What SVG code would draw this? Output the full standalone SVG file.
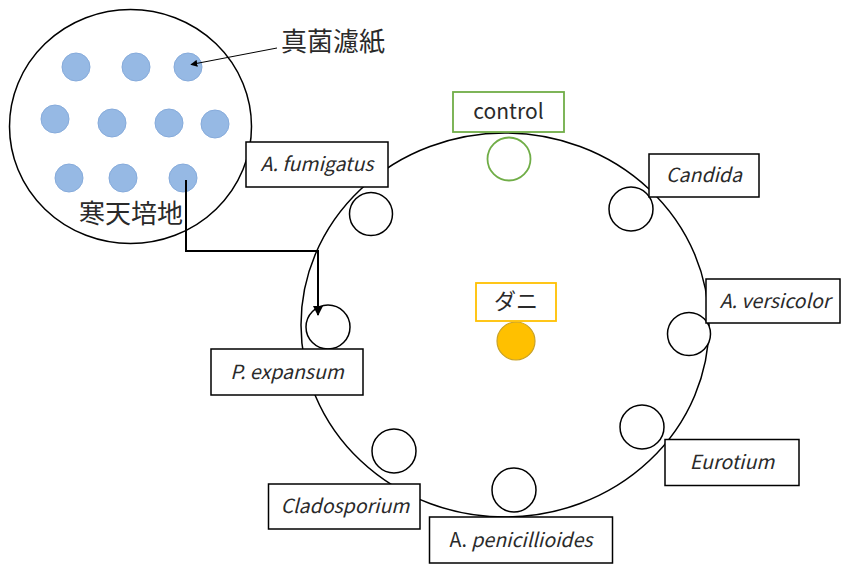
<svg xmlns="http://www.w3.org/2000/svg" width="842" height="564" viewBox="0 0 842 564">
<defs>
<style>
.ln{fill:none;stroke:#000;stroke-width:1.5}
.box{fill:#fff;stroke:#000;stroke-width:1.5}
.well{fill:#fff;stroke:#000;stroke-width:1.5}
.dot{fill:#96B9E4;stroke:#86ABDB;stroke-width:1}
.lbl{font-family:"Noto Sans CJK JP","Noto Sans",sans-serif;font-size:19.5px;fill:#2a2a2a;text-anchor:middle}
.it{font-style:italic}
.jp{font-family:"Noto Sans CJK JP",sans-serif;font-size:26px;fill:#2a2a2a}
</style>
<marker id="ah" viewBox="0 0 10 10" refX="9" refY="5" markerWidth="7" markerHeight="7" orient="auto" markerUnits="userSpaceOnUse">
<path d="M0,0 L10,5 L0,10 z" fill="#000"/>
</marker>
<marker id="ah2" viewBox="0 0 10 10" refX="9" refY="5" markerWidth="10" markerHeight="10" orient="auto" markerUnits="userSpaceOnUse">
<path d="M0,0 L10,5 L0,10 z" fill="#000"/>
</marker>
</defs>
<rect width="842" height="564" fill="#fff"/>

<g id="agar-plate">
<ellipse cx="130.5" cy="126.5" rx="121" ry="117" class="ln"/>
<circle class="dot" cx="76" cy="67" r="14"/>
<circle class="dot" cx="136" cy="67" r="14"/>
<circle class="dot" cx="188" cy="67" r="14"/>
<circle class="dot" cx="55" cy="119" r="14"/>
<circle class="dot" cx="112" cy="123" r="14"/>
<circle class="dot" cx="169" cy="123" r="14"/>
<circle class="dot" cx="215" cy="124" r="14"/>
<circle class="dot" cx="69" cy="178" r="14"/>
<circle class="dot" cx="123" cy="178" r="14"/>
<circle class="dot" cx="183" cy="178" r="14"/>
<text class="jp" x="79" y="223">寒天培地</text>
</g>

<g id="filter-label">
<text class="jp" x="281" y="51">真菌濾紙</text>
</g>

<g id="dish">
<ellipse cx="505" cy="325" rx="204" ry="192" class="ln"/>
</g>

<g id="control">
<circle cx="509" cy="159" r="21.5" fill="#fff" stroke="#70AD47" stroke-width="1.8"/>
<rect x="453" y="92" width="111" height="40" fill="#fff" stroke="#70AD47" stroke-width="1.8"/>
<text class="lbl" x="508.5" y="119" style="font-size:21px">control</text>
</g>

<g id="mite">
<circle cx="516" cy="341" r="19" fill="#FFC000" stroke="#C9A227" stroke-width="1.2"/>
<rect x="476" y="283" width="80" height="38" fill="#fff" stroke="#FFC000" stroke-width="1.8"/>
<text class="lbl" x="516" y="309" style="font-size:22px">ダニ</text>
</g>

<g id="fumigatus">
<circle class="well" cx="371" cy="214" r="21.5"/>
<rect class="box" x="246" y="142" width="142" height="45"/>
<text class="lbl it" x="317" y="171">A. fumigatus</text>
</g>

<g id="expansum">
<circle class="well" cx="328" cy="327" r="22"/>
<rect class="box" x="211" y="349" width="152" height="46"/>
<text class="lbl it" x="287" y="379">P. expansum</text>
</g>

<g id="candida">
<circle class="well" cx="631" cy="209" r="22"/>
<rect class="box" x="649" y="154" width="110" height="43"/>
<text class="lbl it" x="704" y="182">Candida</text>
</g>

<g id="versicolor">
<circle class="well" cx="689" cy="334" r="21.5"/>
<rect class="box" x="706" y="279" width="134" height="44"/>
<text class="lbl it" x="775" y="308">A. versicolor</text>
</g>

<g id="eurotium">
<circle class="well" cx="642" cy="427" r="22"/>
<rect class="box" x="665" y="439.5" width="134" height="46"/>
<text class="lbl it" x="732" y="469">Eurotium</text>
</g>

<g id="cladosporium">
<circle class="well" cx="394" cy="451" r="22"/>
<rect class="box" x="268.5" y="484" width="151.5" height="45"/>
<text class="lbl it" x="345" y="513">Cladosporium</text>
</g>

<g id="penicillioides">
<circle class="well" cx="514" cy="490" r="22"/>
<rect class="box" x="429.5" y="517" width="183" height="46"/>
<text class="lbl" x="521" y="547">A. <tspan class="it">penicillioides</tspan></text>
</g>

<g id="connectors">
<path d="M277,48 L191,64.5" fill="none" stroke="#000" stroke-width="1" marker-end="url(#ah)"/>
<path d="M186,180 L186,251 L318,251 L318,315" fill="none" stroke="#000" stroke-width="2" marker-end="url(#ah2)"/>
</g>
</svg>
